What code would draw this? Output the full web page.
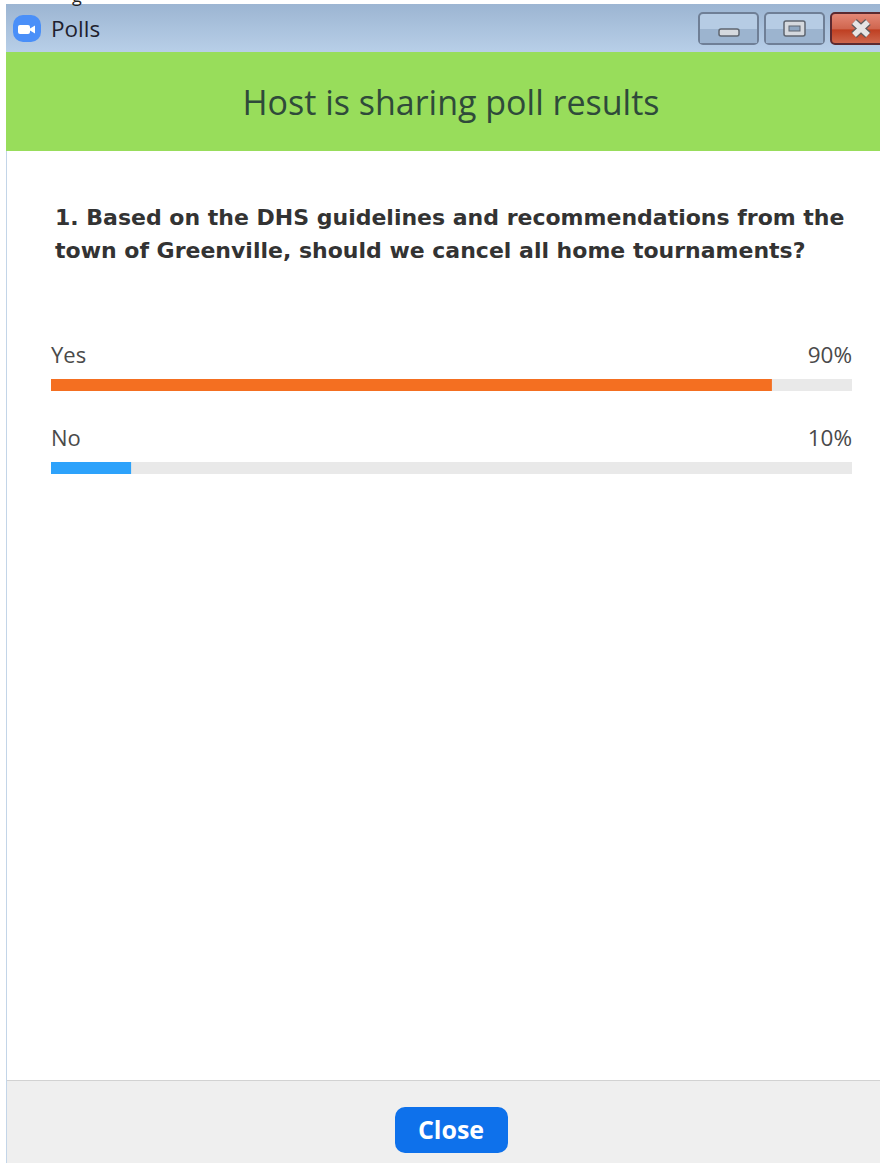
<!DOCTYPE html>
<html>
<head>
<meta charset="utf-8">
<script src="https://cdn.jsdelivr.net/npm/d3@7"></script>
<style>
html, body { margin: 0; padding: 0; background: #fff; overflow: hidden; }
svg { display: block; font-family: "Open Sans", sans-serif; }
</style>
</head>
<body>
<div id="chart"></div>
<script>
var w = 880,
h = 1163;

var answers = ['Yes', 'No'];
var percents = [90, 10];
var barColors = ['#f46f21', '#2da2fb'];
var questionLines = [
  '1. Based on the DHS guidelines and recommendations from the',
  'town of Greenville, should we cancel all home tournaments?'];

var svg = d3.
select('#chart').
append('svg').
attr('width', w).
attr('height', h);

var defs = svg.append('defs');

var titleGrad = defs.append('linearGradient').
attr('id', 'titleGrad').
attr('x1', 0).attr('y1', 0).attr('x2', 0).attr('y2', 1);
titleGrad.append('stop').attr('offset', '0%').attr('stop-color', '#9cb5d2');
titleGrad.append('stop').attr('offset', '100%').attr('stop-color', '#b8cfe8');

var closeGrad = defs.append('linearGradient').
attr('id', 'closeGrad').
attr('x1', 0).attr('y1', 0).attr('x2', 0).attr('y2', 1);
closeGrad.append('stop').attr('offset', '0%').attr('stop-color', '#e58a78');
closeGrad.append('stop').attr('offset', '50%').attr('stop-color', '#d0664f');
closeGrad.append('stop').attr('offset', '55%').attr('stop-color', '#bf3f22');
closeGrad.append('stop').attr('offset', '100%').attr('stop-color', '#cf6a50');

// window frame
svg.append('rect').attr('x', 6).attr('y', 4).attr('width', w - 6).attr('height', 48).attr('fill', 'url(#titleGrad)');
svg.append('rect').attr('x', 6).attr('y', 52).attr('width', 1).attr('height', h - 52).attr('fill', '#c3d5e8');
svg.append('text').attr('x', 77).attr('y', 2).attr('font-size', 18).attr('fill', '#222').attr('text-anchor', 'middle').text('g');

// app icon
svg.append('rect').attr('x', 13).attr('y', 15).attr('width', 28).attr('height', 27).attr('rx', 10).attr('fill', '#4a8ff8');
svg.append('rect').attr('x', 18).attr('y', 25).attr('width', 12).attr('height', 9).attr('rx', 2).attr('fill', '#fff');
svg.append('path').attr('d', 'M30 28.5 L35 25.5 L35 33.5 L30 30.5 Z').attr('fill', '#fff');
svg.append('text').attr('x', 51).attr('y', 37).attr('font-size', 22.5).attr('fill', '#1f1f2e').text('Polls');

// window buttons
var btnG = svg.append('g');
btnG.append('rect').attr('x', 699).attr('y', 13).attr('width', 59).attr('height', 31).attr('rx', 4).
attr('fill', '#b6cce4').attr('stroke', '#6f7f96').attr('stroke-width', 2);
btnG.append('rect').attr('x', 700).attr('y', 29).attr('width', 57).attr('height', 14).attr('fill', '#9cb4cf');
btnG.append('rect').attr('x', 719).attr('y', 29).attr('width', 20).attr('height', 7).attr('rx', 2).
attr('fill', '#d5d9de').attr('stroke', '#5f6670').attr('stroke-width', 1.5);
btnG.append('rect').attr('x', 765).attr('y', 13).attr('width', 59).attr('height', 31).attr('rx', 4).
attr('fill', '#b6cce4').attr('stroke', '#6f7f96').attr('stroke-width', 2);
btnG.append('rect').attr('x', 766).attr('y', 29).attr('width', 57).attr('height', 14).attr('fill', '#9cb4cf');
btnG.append('rect').attr('x', 784).attr('y', 21).attr('width', 21).attr('height', 15).attr('rx', 2).
attr('fill', '#d5d9de').attr('stroke', '#5f6670').attr('stroke-width', 1.5);
btnG.append('rect').attr('x', 789).attr('y', 26).attr('width', 11).attr('height', 5).attr('fill', '#8ea6c0').attr('stroke', '#5f6670');
btnG.append('rect').attr('x', 831).attr('y', 13).attr('width', 60).attr('height', 31).attr('rx', 4).
attr('fill', 'url(#closeGrad)').attr('stroke', '#5c2a30').attr('stroke-width', 2);
btnG.append('path').attr('d', 'M854 22 L868 35 M868 22 L854 35').
attr('stroke', '#5f5a5c').attr('stroke-width', 8);
btnG.append('path').attr('d', 'M854 22 L868 35 M868 22 L854 35').
attr('stroke', '#e6e4e4').attr('stroke-width', 5.5);

// green banner
svg.append('rect').attr('x', 6).attr('y', 52).attr('width', w - 6).attr('height', 99).attr('fill', '#98dd5b');
svg.append('text').attr('x', 451).attr('y', 115).attr('text-anchor', 'middle').
attr('font-size', 34).attr('fill', '#2f4a3a').text('Host is sharing poll results');

// question
svg.selectAll('.question').
data(questionLines).
enter().
append('text').
attr('class', 'question').
attr('x', 55).
attr('y', (d, i) => 225 + i * 33).
attr('font-family', '"DejaVu Sans", sans-serif').
attr('font-size', 22).
attr('font-weight', 'bold').
attr('fill', '#333').
text(d => d);

// bars
var x = d3.
scaleLinear().
domain([0, 100]).
range([51, 852]);

var y = d3.
scaleBand().
domain(answers).
range([379, 379 + 83 * 2]).
paddingInner(0);

var barH = 12;

var rows = svg.selectAll('.row').
data(answers).
enter().
append('g').
attr('class', 'row');

rows.append('rect').
attr('x', x(0)).
attr('y', d => y(d)).
attr('width', x(100) - x(0)).
attr('height', barH).
attr('fill', '#e9e9e9');

rows.append('rect').
attr('x', x(0)).
attr('y', d => y(d)).
attr('width', (d, i) => x(percents[i]) - x(0)).
attr('height', barH).
attr('fill', (d, i) => barColors[i]);

rows.append('text').
attr('x', x(0)).
attr('y', d => y(d) - 16).
attr('font-size', 22).
attr('fill', '#4a4a4a').
text(d => d);

rows.append('text').
attr('x', x(100)).
attr('y', d => y(d) - 16).
attr('text-anchor', 'end').
attr('font-size', 22.5).
attr('fill', '#4a4a4a').
text((d, i) => percents[i] + '%');

// footer
svg.append('rect').attr('x', 7).attr('y', 1080).attr('width', w - 7).attr('height', 83).attr('fill', '#efefef');
svg.append('rect').attr('x', 7).attr('y', 1080).attr('width', w - 7).attr('height', 1).attr('fill', '#d2d2d2');
svg.append('rect').attr('x', 395).attr('y', 1107).attr('width', 113).attr('height', 46).attr('rx', 10).attr('fill', '#0e71eb');
svg.append('text').attr('x', 451).attr('y', 1139).attr('text-anchor', 'middle').
attr('font-size', 25).attr('font-weight', 'bold').attr('fill', '#fff').text('Close');
</script>
</body>
</html>
